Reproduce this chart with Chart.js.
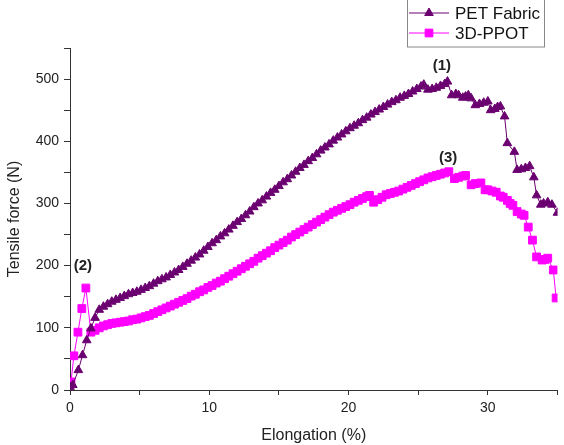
<!DOCTYPE html>
<html>
<head>
<meta charset="utf-8">
<script src="https://cdn.jsdelivr.net/npm/chart.js@4/dist/chart.umd.min.js"></script>
<style>
  html, body { margin: 0; padding: 0; background: #fff; }
  #wrap { width: 564px; height: 445px; }
</style>
</head>
<body>
<div id="wrap"><canvas id="myChart" width="564" height="445"></canvas></div>
<script>
// PET Fabric (triangles)
const petX = [0, 0.2, 0.6, 0.9, 1.2, 1.5, 1.8,
  2.1, 2.4, 2.7, 3.0, 3.3, 3.6, 3.9, 4.2, 4.5, 4.8, 5.1, 5.4, 5.7, 6.0, 6.3, 6.6, 6.9,
  7.2, 7.5, 7.8, 8.1, 8.4, 8.7, 9.0, 9.3, 9.6, 9.9, 10.2, 10.5, 10.8, 11.1, 11.4, 11.7,
  12.0, 12.3, 12.6, 12.9, 13.2, 13.5, 13.8, 14.1, 14.4, 14.7, 15.0, 15.3, 15.6, 15.9,
  16.2, 16.5, 16.8, 17.1, 17.4, 17.7, 18.0, 18.3, 18.6, 18.9, 19.2, 19.5, 19.8, 20.1,
  20.4, 20.7, 21.0, 21.3, 21.6, 21.9, 22.2, 22.5, 22.8, 23.1, 23.4, 23.7, 24.0, 24.3,
  24.6, 24.9, 25.2, 25.4, 25.7, 26.0, 26.3, 26.6, 26.9, 27.1,
  27.4, 27.7, 27.9, 28.2, 28.4, 28.6, 28.8, 29.1, 29.4, 29.7, 30.0, 30.2, 30.5, 30.7,
  30.9, 31.2, 31.4, 31.9, 32.1, 32.4, 32.7, 33.0, 33.3, 33.5, 33.8, 34.0, 34.3, 34.6, 35.0];
const petY = [5, 8, 32, 56, 80, 99, 116,
  129, 134, 138, 142, 145, 148, 151, 154, 156, 158, 161, 164, 167, 171, 175, 178, 181,
  185, 189, 193, 198, 203, 208, 213, 218, 224, 230, 236, 241, 247, 252, 258, 264,
  270, 275, 281, 287, 294, 300, 305, 311, 317, 322, 328, 334, 339, 345,
  351, 357, 362, 368, 373, 379, 385, 390, 395, 401, 406, 411, 416, 421,
  425, 429, 434, 438, 443, 447, 451, 455, 459, 463, 466, 470, 473, 476,
  480, 484, 488, 491, 483, 484, 486, 489, 492, 496,
  474, 476, 474, 470, 472, 474, 469, 458, 460, 462, 464, 450, 452, 455,
  456, 440, 397, 383, 354, 355, 357, 360, 342, 313, 298, 300, 302, 298, 285];

// 3D-PPOT (squares)
const ppotX = [0.07, 0.28, 0.57, 0.85, 1.14, 1.5,
  1.8, 2.1, 2.4, 2.7, 3.0, 3.3, 3.6, 3.9, 4.2, 4.5, 4.8, 5.1, 5.4, 5.7, 6.0, 6.3, 6.6,
  6.9, 7.2, 7.5, 7.8, 8.1, 8.4, 8.7, 9.0, 9.3, 9.6, 9.9, 10.2, 10.5, 10.8, 11.1, 11.4,
  11.7, 12.0, 12.3, 12.6, 12.9, 13.2, 13.5, 13.8, 14.1, 14.4, 14.7, 15.0, 15.3, 15.6,
  15.9, 16.2, 16.5, 16.8, 17.1, 17.4, 17.7, 18.0, 18.3, 18.6, 18.9, 19.2, 19.5, 19.8,
  20.1, 20.4, 20.7, 21.0, 21.3, 21.5, 21.8, 22.1, 22.4, 22.7, 23.0, 23.3, 23.6, 23.9,
  24.2, 24.5, 24.8, 25.1, 25.4, 25.7, 26.0, 26.3, 26.6, 26.9, 27.2,
  27.6, 27.9, 28.2, 28.4, 28.8, 29.1, 29.5, 29.8, 30.0, 30.3, 30.6, 30.9, 31.1, 31.4,
  31.6, 31.8, 32.1, 32.4, 32.6, 32.9, 33.2, 33.5, 33.9, 34.1, 34.3, 34.7, 34.9];
const ppotY = [13, 55, 93, 131, 164, 93,
  96, 100, 103, 105, 107, 108, 109, 110, 111, 113, 114, 116, 118, 120, 123, 126, 129,
  132, 135, 138, 141, 144, 147, 151, 154, 158, 161, 165, 168, 172, 175, 179, 183,
  187, 191, 195, 199, 203, 207, 212, 216, 220, 224, 229, 233, 237, 241,
  246, 250, 254, 258, 262, 266, 270, 274, 278, 282, 286, 289, 292, 295,
  298, 302, 305, 308, 311, 313, 302, 306, 310, 314, 316, 318, 320, 323,
  326, 329, 332, 335, 338, 341, 343, 345, 347, 349, 351,
  340, 342, 344, 345, 330, 332, 333, 322, 322, 320, 318, 312, 310, 305,
  300, 297, 287, 283, 281, 262, 241, 214, 209, 210, 212, 193, 148];

// point labels
const noteText = ["(1)", "(2)", "(3)"];
const noteX = [26.7, 0.92, 27.15];
const noteY = [521, 199, 373];

const seriesNames = ["PET Fabric", "3D-PPOT"];
const petColor = "#6b0070";
const ppotColor = "#ff00ff";

const toPoints = (xs, ys) => xs.map((x, i) => ({ x: x, y: ys[i] }));

const notesPlugin = {
  id: "notes",
  afterDatasetsDraw(chart) {
    const { ctx, scales } = chart;
    ctx.save();
    ctx.fillStyle = "#222";
    ctx.font = "bold 15px 'Liberation Sans', Arial, sans-serif";
    ctx.textAlign = "center";
    ctx.textBaseline = "middle";
    noteText.forEach((t, i) => {
      ctx.fillText(t, scales.x.getPixelForValue(noteX[i]), scales.y.getPixelForValue(noteY[i]));
    });
    ctx.restore();
  },
};

const legendBox = {
  id: "legendBox",
  afterDraw(chart) {
    const ctx = chart.ctx;
    const items = [
      { name: seriesNames[0], color: petColor, style: "triangle", r: 5, y: 13 },
      { name: seriesNames[1], color: ppotColor, style: "rect", r: 5.5, y: 33 },
    ];
    ctx.save();
    ctx.strokeStyle = "#888";
    ctx.lineWidth = 1;
    ctx.strokeRect(407.5, -1, 137, 48);
    items.forEach((it) => {
      ctx.strokeStyle = it.color;
      ctx.fillStyle = it.color;
      ctx.lineWidth = 1;
      ctx.beginPath();
      ctx.moveTo(409, it.y);
      ctx.lineTo(449, it.y);
      ctx.stroke();
      Chart.helpers.drawPoint(ctx, { pointStyle: it.style, radius: it.r, borderWidth: 1, rotation: 0 }, 429, it.y);
      ctx.fillStyle = "#111";
      ctx.font = "17px 'Liberation Sans', Arial, sans-serif";
      ctx.textAlign = "left";
      ctx.textBaseline = "middle";
      ctx.fillText(it.name, 455, it.y + 1);
    });
    ctx.restore();
  },
};

const ctx = document.getElementById("myChart").getContext("2d");
const myChart = new Chart(ctx, {
  type: "line",
  data: {
    datasets: [
      {
        label: seriesNames[0],
        data: toPoints(petX, petY),
        borderColor: petColor,
        backgroundColor: petColor,
        borderWidth: 1,
        pointStyle: "triangle",
        pointRadius: 5,
        pointBorderWidth: 1,
        tension: 0,
      },
      {
        label: seriesNames[1],
        data: toPoints(ppotX, ppotY),
        borderColor: ppotColor,
        backgroundColor: ppotColor,
        borderWidth: 1,
        pointStyle: "rect",
        pointRadius: 5.5,
        pointBorderWidth: 1,
        tension: 0,
      },
    ],
  },
  options: {
    responsive: false,
    animation: false,
    layout: { padding: { left: 0, right: 2, top: 48, bottom: 0 } },
    plugins: {
      legend: { display: false },
      tooltip: { enabled: false },
    },
    scales: {
      x: {
        type: "linear",
        min: 0,
        max: 35,
        border: { display: true, color: "#333", width: 1 },
        grid: { display: true, drawOnChartArea: false, drawTicks: true, tickLength: 5, color: "#333" },
        ticks: {
          stepSize: 5,
          padding: 5,
          color: "#222",
          font: { size: 14, family: "'Liberation Sans', Arial, sans-serif" },
          maxRotation: 0,
          callback: (v) => (v % 10 === 0 ? String(v) : ""),
        },
        title: {
          display: true,
          text: "Elongation (%)",
          color: "#222",
          font: { size: 16, family: "'Liberation Sans', Arial, sans-serif" },
          padding: { top: 3, bottom: 0 },
        },
        afterFit: (s) => { s.height = 55; },
      },
      y: {
        min: 0,
        max: 550,
        border: { display: true, color: "#333", width: 1 },
        grid: { display: true, drawOnChartArea: false, drawTicks: true, tickLength: 6, color: "#333" },
        ticks: {
          stepSize: 50,
          padding: 5,
          color: "#222",
          font: { size: 14, family: "'Liberation Sans', Arial, sans-serif" },
          callback: (v) => (v % 100 === 0 ? String(v) : ""),
        },
        title: {
          display: true,
          text: "Tensile force (N)",
          color: "#222",
          font: { size: 16, family: "'Liberation Sans', Arial, sans-serif" },
          padding: { top: 5, bottom: 0 },
        },
        afterFit: (s) => { s.width = 70; },
      },
    },
  },
  plugins: [notesPlugin, legendBox],
});
</script>
</body>
</html>
